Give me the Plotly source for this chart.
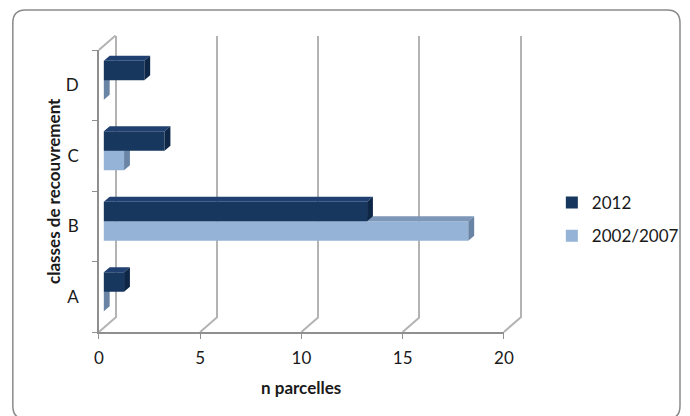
import plotly.graph_objects as go

# ---- data -------------------------------------------------------------
categories = ["A", "B", "C", "D"]
series_2012 = [1, 13, 3, 2]
series_2002_2007 = [0, 18, 1, 0]
x_ticks = [0, 5, 10, 15, 20]

# ---- geometry (pixels) ------------------------------------------------
W, H = 690, 416
X_MAX = 20
FX0, FX1 = 96, 510          # front plane: columns of x=0 and x=X_MAX
FYB, FYT = 332, 50          # front plane: bottom and top rows
BACK_DX, BACK_DY = 17, -14.5  # back wall offset
BAR_DX, BAR_DY = 5, -5        # bar plane offset
DEPTH_DX, DEPTH_DY = 6, -5    # extrusion of each bar
BAR_W = 0.277                 # bar thickness in category units

px_per_x = (FX1 - FX0) / X_MAX
px_per_cat = (FYB - FYT) / len(categories)

C_DARK, C_DARK_TOP, C_DARK_SIDE = "#17375e", "#1f4070", "#0f2747"
C_LIGHT, C_LIGHT_TOP, C_LIGHT_SIDE = "#95b3d7", "#7d97b9", "#6a84a6"
GRID = "#b3b3b3"
AXIS = "#8f8f8f"
FONT = "Lato"


def pxf(xp):
    return xp / W


def pyf(yp):
    return 1 - yp / H


def xdom(shift, lo, hi):
    return [pxf(FX0 + shift + lo * px_per_x), pxf(FX0 + shift + hi * px_per_x)]


def ydom(shift, lo, hi):
    return [pyf(FYB + shift - (lo + 0.5) * px_per_cat),
            pyf(FYB + shift - (hi + 0.5) * px_per_cat)]


ddx = DEPTH_DX / px_per_x
ddy = -DEPTH_DY / px_per_cat


def face_paths(values, offset):
    tx, ty, sx, sy = [], [], [], []
    for i, v in enumerate(values):
        y0 = i + offset
        y1 = y0 + BAR_W
        tx += [0, v, v + ddx, ddx, 0, None]
        ty += [y1, y1, y1 + ddy, y1 + ddy, y1, None]
        sx += [v, v + ddx, v + ddx, v, v, None]
        sy += [y0, y0 + ddy, y1 + ddy, y1, y0, None]
    return tx, ty, sx, sy


ypos = list(range(len(categories)))
fig = go.Figure()

# back wall (gridlines only)
fig.add_trace(go.Scatter(x=[None], y=[None], xaxis="x", yaxis="y",
                         showlegend=False, hoverinfo="skip"))


def add_series(values, offset, c_front, c_top, c_side, name, rank, xa, ya):
    tx, ty, sx, sy = face_paths(values, offset)
    fig.add_trace(go.Bar(x=values, y=ypos, orientation="h", offset=offset,
                         width=BAR_W, marker=dict(color=c_front, line_width=0),
                         name=name, legendrank=rank, legendgroup=name,
                         xaxis=xa, yaxis=ya))
    fig.add_trace(go.Scatter(x=tx, y=ty, fill="toself", fillcolor=c_top,
                             mode="lines", line=dict(width=0), showlegend=False,
                             legendgroup=name, hoverinfo="skip",
                             xaxis=xa, yaxis=ya))
    fig.add_trace(go.Scatter(x=sx, y=sy, fill="toself", fillcolor=c_side,
                             mode="lines", line=dict(width=0), showlegend=False,
                             legendgroup=name, hoverinfo="skip",
                             xaxis=xa, yaxis=ya))


add_series(series_2002_2007, -BAR_W, C_LIGHT, C_LIGHT_TOP, C_LIGHT_SIDE,
           "2002/2007", 2, "x2", "y2")
add_series(series_2012, 0, C_DARK, C_DARK_TOP, C_DARK_SIDE,
           "2012", 1, "x3", "y3")

# front axes
fig.add_trace(go.Scatter(x=[None], y=[None], xaxis="x4", yaxis="y4",
                         showlegend=False, hoverinfo="skip"))

# floor and side-wall edges
shapes = []
for t in x_ticks:
    x0 = FX0 + t * px_per_x
    shapes.append(dict(type="line", xref="paper", yref="paper", layer="below",
                       x0=pxf(x0), y0=pyf(FYB), x1=pxf(x0 + BACK_DX),
                       y1=pyf(FYB + BACK_DY), line=dict(color=GRID, width=2)))
shapes.append(dict(type="line", xref="paper", yref="paper", layer="below",
                   x0=pxf(FX0), y0=pyf(FYT), x1=pxf(FX0 + BACK_DX),
                   y1=pyf(FYT + BACK_DY), line=dict(color=GRID, width=2)))

# rounded outer frame
L, T, R, B, rr = 8, 10, 690, 419, 13
frame = (f"M {pxf(L)},{pyf(T + rr)} Q {pxf(L)},{pyf(T)} {pxf(L + rr)},{pyf(T)} "
         f"L {pxf(R - rr)},{pyf(T)} Q {pxf(R)},{pyf(T)} {pxf(R)},{pyf(T + rr)} "
         f"L {pxf(R)},{pyf(B - rr)} Q {pxf(R)},{pyf(B)} {pxf(R - rr)},{pyf(B)} "
         f"L {pxf(L + rr)},{pyf(B)} Q {pxf(L)},{pyf(B)} {pxf(L)},{pyf(B - rr)} Z")
shapes.append(dict(type="path", xref="paper", yref="paper", path=frame,
                   line=dict(color="#8a8a8a", width=1.5), layer="below"))

hidden = dict(visible=False, fixedrange=True)
fig.update_layout(
    width=W, height=H, margin=dict(l=0, r=0, t=0, b=0),
    paper_bgcolor="white", plot_bgcolor="rgba(0,0,0,0)",
    barmode="overlay", showlegend=True,
    font=dict(family=FONT, size=17, color="#1a1a1a"),
    xaxis=dict(domain=xdom(BACK_DX, -0.3, X_MAX + 0.3), range=[-0.3, X_MAX + 0.3],
               tickvals=x_ticks, showgrid=True, gridcolor=GRID, gridwidth=2,
               showticklabels=False, ticks="", zeroline=False, showline=False,
               anchor="y", fixedrange=True),
    yaxis=dict(domain=ydom(BACK_DY, -0.5, 3.5), range=[-0.5, 3.5], anchor="x",
               **hidden),
    xaxis2=dict(domain=xdom(BAR_DX, -0.5, X_MAX + 1), range=[-0.5, X_MAX + 1],
                anchor="y2", **hidden),
    yaxis2=dict(domain=ydom(BAR_DY, -0.5, 3.5), range=[-0.5, 3.5], anchor="x2",
                **hidden),
    xaxis3=dict(overlaying="x2", range=[-0.5, X_MAX + 1], anchor="y3", **hidden),
    yaxis3=dict(overlaying="y2", range=[-0.5, 3.5], anchor="x3", **hidden),
    xaxis4=dict(domain=xdom(0, 0, X_MAX), range=[0, X_MAX], anchor="y4",
                tickvals=x_ticks, ticks="outside", ticklen=5, tickcolor=AXIS,
                showline=True, linecolor=AXIS, linewidth=1.5, showgrid=False,
                zeroline=False, ticklabelstandoff=5, fixedrange=True,
                tickfont=dict(size=17)),
    yaxis4=dict(domain=ydom(0, -0.5, 3.5), range=[-0.5, 3.5], anchor="x4",
                tickvals=ypos, ticktext=categories, ticks="",
                minor=dict(tickvals=[-0.5, 0.5, 1.5, 2.5, 3.5], ticks="outside",
                           ticklen=5, tickcolor=AXIS),
                showline=True, linecolor=AXIS, linewidth=1.5, showgrid=False,
                zeroline=False, ticklabelstandoff=15, fixedrange=True,
                tickfont=dict(size=17)),
    legend=dict(x=pxf(559), y=pyf(185), xanchor="left", yanchor="top",
                traceorder="grouped", tracegroupgap=8,
                font=dict(size=17), bgcolor="rgba(0,0,0,0)"),
    shapes=shapes,
    annotations=[
        dict(text="classes de recouvrement", x=pxf(49), y=pyf(191),
             xref="paper", yref="paper", xanchor="center", yanchor="middle",
             textangle=-90, showarrow=False, font=dict(size=17, weight="bold")),
        dict(text="n parcelles", x=pxf(303), y=pyf(387), xref="paper",
             yref="paper", xanchor="center", yanchor="middle", showarrow=False,
             font=dict(size=17, weight="bold")),
    ],
)

fig.write_html("out.html")
